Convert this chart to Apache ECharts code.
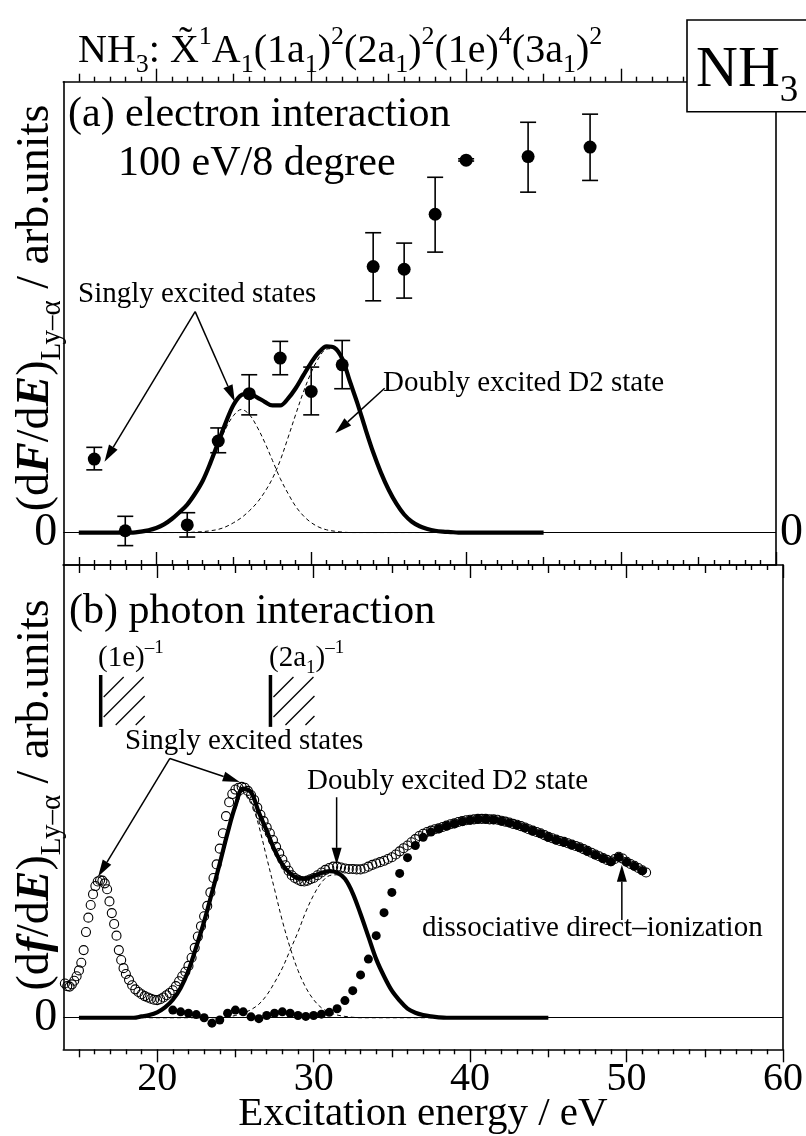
<!DOCTYPE html>
<html><head><meta charset="utf-8">
<script src="https://cdn.jsdelivr.net/npm/echarts@6/dist/echarts.min.js"></script>
<style>html,body{margin:0;padding:0;background:#fff}#c{width:806px;height:1136px}</style>
</head><body><div id="c"></div>
<script>
// ---------------- data ----------------
const X_MIN = 14, X_MAX = 60;
const X_LABELS = [20, 30, 40, 50, 60];
const MAJOR_TICKS = [20, 30, 40, 50, 60];
const MID_TICKS = [15, 25, 35, 45, 55];
const MINOR_TICKS = [16,17,18,19,21,22,23,24,26,27,28,29,31,32,33,34,36,37,38,39,41,42,43,44,46,47,48,49,51,52,53,54,56,57,58,59];
const Y_LABELS = [0];

// (a) electron interaction: points with error bars
const E_ELEC = [16, 18, 22, 24, 26, 28, 30, 32, 34, 36, 38, 40, 44, 48];
const Y_ELEC = [1.63, 0.04, 0.17, 2.03, 3.08, 3.87, 3.13, 3.72, 5.90, 5.84, 7.06, 8.26, 8.34, 8.55];
const ERR_LO = [1.39, -0.29, -0.10, 1.77, 2.61, 3.50, 2.61, 3.19, 5.14, 5.20, 6.22, 8.24, 7.55, 7.81];
const ERR_HI = [1.89, 0.36, 0.44, 2.32, 3.50, 4.24, 3.67, 4.26, 6.65, 6.42, 7.88, 8.29, 9.10, 9.28];

// fit curves (energies shared)
const E_FIT = [15,15.5,16,16.5,17,17.5,18,18.5,19,19.5,20,20.5,21,21.5,22,22.5,23,23.5,24,24.5,25,25.5,26,26.5,27,27.5,28,28.5,29,29.5,30,30.5,31,31.5,32,32.5,33,33.5,34,34.5,35,35.5,36,36.5,37,37.5,38,38.5,39,39.5,40,40.5,41,41.5,42,42.5,43,43.5,44,44.5,45];
const TOP_SUM = [0,0,0,0,0,0,0,0,0.02,0.05,0.1,0.18,0.3,0.45,0.62,0.86,1.15,1.55,2.0,2.45,2.84,3.05,3.08,3.0,2.9,2.82,2.82,2.97,3.2,3.49,3.77,4.0,4.13,4.1,3.86,3.35,2.85,2.3,1.78,1.33,0.95,0.64,0.4,0.24,0.14,0.08,0.04,0.02,0.01,0,0,0,0,0,0,0,0,0,0,0,0];
const TOP_G1 = [0,0,0,0,0,0,0,0,0.02,0.05,0.1,0.18,0.3,0.45,0.62,0.85,1.13,1.5,1.92,2.32,2.6,2.73,2.62,2.35,2.0,1.6,1.2,0.87,0.58,0.37,0.22,0.12,0.06,0.03,0.01,0,0,0,0,0,0,0,0,0,0,0,0,0,0,0,0,0,0,0,0,0,0,0,0,0,0];
const TOP_G2 = [0,0,0,0,0,0,0,0,0,0,0,0,0,0,0,0.01,0.02,0.04,0.07,0.13,0.22,0.33,0.48,0.66,0.9,1.2,1.6,2.1,2.62,3.12,3.55,3.88,4.07,4.08,3.85,3.35,2.85,2.3,1.78,1.33,0.95,0.64,0.4,0.24,0.14,0.08,0.04,0.02,0.01,0,0,0,0,0,0,0,0,0,0,0,0];
const BOT_SUM = [0,0,0,0,0,0,0,0,0.03,0.06,0.12,0.23,0.4,0.66,1.05,1.57,2.13,2.77,3.42,4.1,4.7,5.08,5.0,4.55,4.15,3.72,3.4,3.2,3.09,3.08,3.14,3.21,3.25,3.22,3.08,2.76,2.3,1.8,1.3,0.92,0.6,0.38,0.2,0.11,0.06,0.03,0.01,0,0,0,0,0,0,0,0,0,0,0,0,0,0];
const BOT_G1 = [0,0,0,0,0,0,0,0,0.03,0.06,0.12,0.23,0.4,0.66,1.05,1.57,2.13,2.76,3.4,4.07,4.62,4.97,4.8,4.25,3.55,2.85,2.15,1.55,1.05,0.67,0.4,0.22,0.12,0.06,0.03,0.01,0,0,0,0,0,0,0,0,0,0,0,0,0,0,0,0,0,0,0,0,0,0,0,0,0];
const BOT_G2 = [0,0,0,0,0,0,0,0,0,0,0,0,0,0,0,0,0,0,0,0.02,0.05,0.1,0.18,0.3,0.5,0.78,1.1,1.5,1.9,2.35,2.72,3.0,3.15,3.17,3.06,2.75,2.3,1.8,1.3,0.92,0.6,0.38,0.2,0.11,0.06,0.03,0.01,0,0,0,0,0,0,0,0,0,0,0,0,0,0];

// (b) photon interaction: measured (open circles)
const E_OPEN = [14.1,14.25,14.4,14.55,14.7,14.85,15.0,15.15,15.3,15.45,15.6,15.75,15.9,16.05,16.2,16.35,16.5,16.65,16.8,16.95,17.1,17.25,17.4,17.55,17.7,17.85,18.0,18.2,18.4,18.6,18.8,19.0,19.2,19.4,19.6,19.8,20.0,20.2,20.4,20.6,20.8,21.0,21.2,21.4,21.6,21.8,22.0,22.2,22.4,22.6,22.8,23.0,23.2,23.4,23.6,23.8,24.0,24.2,24.4,24.6,24.8,25.0,25.2,25.4,25.6,25.8,26.0,26.2,26.4,26.6,26.8,27.0,27.2,27.4,27.6,27.8,28.0,28.2,28.4,28.6,28.8,29.0,29.2,29.4,29.6,29.8,30.0,30.25,30.5,30.75,31.0,31.25,31.5,31.75,32.0,32.25,32.5,32.75,33.0,33.25,33.5,33.75,34.0,34.25,34.5,34.75,35.0,35.25,35.5,35.75,36.0,36.25,36.5,36.75,37.0,37.25,37.5,37.75,38.0,38.25,38.5,38.75,39.0,39.25,39.5,39.75,40.0,40.25,40.5,40.75,41.0,41.25,41.5,41.75,42.0,42.25,42.5,42.75,43.0,43.25,43.5,43.75,44.0,44.25,44.5,44.75,45.0,45.25,45.5,45.75,46.0,46.25,46.5,46.75,47.0,47.25,47.5,47.75,48.0,48.25,48.5,48.75,49.0,49.25,49.5,49.75,50.0,50.25,50.5,50.75,51.0,51.25];
const Y_OPEN = [0.76,0.7,0.69,0.74,0.82,0.92,1.05,1.22,1.5,1.9,2.22,2.5,2.74,2.92,3.02,3.05,3.04,2.98,2.85,2.58,2.32,2.08,1.82,1.5,1.28,1.1,0.97,0.84,0.72,0.63,0.57,0.52,0.48,0.45,0.42,0.4,0.39,0.41,0.45,0.5,0.55,0.61,0.7,0.81,0.92,1.02,1.15,1.33,1.55,1.8,2.03,2.25,2.48,2.78,3.1,3.4,3.75,4.09,4.47,4.78,4.96,5.06,5.1,5.12,5.1,5.03,4.94,4.83,4.66,4.5,4.36,4.22,4.09,3.94,3.79,3.65,3.51,3.38,3.26,3.16,3.1,3.06,3.03,3.02,3.04,3.07,3.1,3.16,3.22,3.28,3.32,3.35,3.35,3.33,3.31,3.3,3.3,3.29,3.29,3.31,3.35,3.39,3.42,3.45,3.48,3.52,3.56,3.62,3.69,3.76,3.82,3.89,3.96,4.03,4.08,4.12,4.15,4.18,4.2,4.23,4.26,4.29,4.31,4.34,4.36,4.38,4.39,4.4,4.41,4.41,4.41,4.4,4.4,4.39,4.37,4.35,4.33,4.3,4.28,4.25,4.22,4.18,4.15,4.12,4.09,4.05,4.01,3.98,3.95,3.92,3.9,3.87,3.84,3.81,3.78,3.74,3.7,3.66,3.62,3.58,3.54,3.5,3.47,3.52,3.57,3.53,3.46,3.41,3.37,3.32,3.27,3.22];

// dissociative direct-ionization component (filled circles)
const E_DISS = [21,21.5,22,22.5,23,23.5,24,24.5,25,25.5,26,26.5,27,27.5,28,28.5,29,29.5,30,30.5,31,31.5,32,32.5,33,33.5,34,34.5,35,35.5,36,36.5,37,37.5,38,38.5,39,39.5,40,40.5,41,41.5,42,42.5,43,43.5,44,44.5,45,45.5,46,46.5,47,47.5,48,48.5,49,49.5,50,50.5,51];
const Y_DISS = [0.17,0.13,0.1,0.07,0.0,-0.12,-0.05,0.1,0.17,0.13,0.02,-0.02,0.05,0.1,0.13,0.1,0.05,0.03,0.05,0.08,0.12,0.2,0.38,0.6,0.95,1.3,1.82,2.33,2.78,3.2,3.55,3.82,4.0,4.12,4.19,4.25,4.3,4.35,4.38,4.4,4.4,4.39,4.36,4.32,4.27,4.21,4.14,4.08,4.0,3.94,3.89,3.83,3.77,3.69,3.61,3.53,3.46,3.56,3.45,3.36,3.26];

// ---------------- chart ----------------
const FONT = '"Liberation Serif","Times New Roman",serif';
const BLACK = '#000';
const GRIDS = [
  {left: 63.3, right: 21.7, top: 81.7, height: 483.3},
  {left: 63.3, right: 21.7, top: 565, height: 484.3}
];
const YR = [[-0.72, 10.0], [-0.70, 10.04]];

function xAxes(g, side, inside, withLabels) {
  const base = {gridIndex: g, type: 'value', min: X_MIN, max: X_MAX, position: side,
    splitLine: {show: false}, axisLabel: {show: false}, axisLine: {show: false, onZero: false}};
  const tl = {color: BLACK, width: 1.4};
  return [
    Object.assign({}, base, {
      axisLine: {show: true, onZero: false, lineStyle: {color: BLACK, width: 1.6}},
      axisTick: {show: true, inside: inside, length: 13, customValues: MAJOR_TICKS, lineStyle: tl},
      axisLabel: withLabels ? {show: true, customValues: X_LABELS, fontSize: 40, fontFamily: FONT, color: BLACK, margin: 10} : {show: false}
    }),
    Object.assign({}, base, {axisTick: {show: true, inside: inside, length: 8, customValues: MID_TICKS, lineStyle: tl}}),
    Object.assign({}, base, {axisTick: {show: true, inside: inside, length: 5, customValues: MINOR_TICKS, lineStyle: tl}})
  ];
}
function yAxes(g) {
  const mk = (pos, showLab, margin) => ({
    gridIndex: g, type: 'value', min: YR[g][0], max: YR[g][1], position: pos,
    axisLine: {show: true, onZero: false, lineStyle: {color: BLACK, width: 1.6}},
    axisTick: {show: false}, splitLine: {show: false},
    axisLabel: showLab ? {show: true, customValues: Y_LABELS, fontSize: 46, fontFamily: FONT, color: BLACK, margin: margin} : {show: false}
  });
  return [mk('left', true, 6), mk('right', g === 0, 4)];
}

const xAxis = [].concat(
  xAxes(0, 'bottom', true, false), xAxes(0, 'top', false, false),
  xAxes(1, 'bottom', false, true), xAxes(1, 'top', true, false)
);
const yAxis = [].concat(yAxes(0), yAxes(1));

const pairs = (xs, ys) => xs.map((x, i) => [x, ys[i]]);
const zeroLine = {silent: true, symbol: ['none', 'none'], label: {show: false},
  lineStyle: {color: BLACK, width: 1.2, type: 'solid'}, data: [{yAxis: 0}]};
const dashed = (g, ys, withZero) => ({
  type: 'line', xAxisIndex: g ? 6 : 0, yAxisIndex: g ? 2 : 0, data: pairs(E_FIT, ys),
  smooth: 0.35, showSymbol: false, lineStyle: {color: BLACK, width: 1, type: [4, 3]},
  markLine: withZero ? zeroLine : undefined, z: 2
});
const thick = (g, ys) => ({
  type: 'line', xAxisIndex: g ? 6 : 0, yAxisIndex: g ? 2 : 0, data: pairs(E_FIT, ys),
  smooth: 0.35, showSymbol: false, lineStyle: {color: BLACK, width: 4.2}, z: 4
});

const series = [
  dashed(0, TOP_G1, true), dashed(0, TOP_G2, false), thick(0, TOP_SUM),
  {
    type: 'custom', xAxisIndex: 0, yAxisIndex: 0, z: 5,
    data: E_ELEC.map((e, i) => [e, ERR_LO[i], ERR_HI[i]]),
    encode: {x: 0, y: [1, 2]},
    renderItem: (params, api) => {
      const x = api.value(0);
      const lo = api.coord([x, api.value(1)]);
      const hi = api.coord([x, api.value(2)]);
      const w = 8, st = {stroke: BLACK, lineWidth: 1.6};
      return {type: 'group', children: [
        {type: 'line', shape: {x1: lo[0], y1: lo[1], x2: hi[0], y2: hi[1]}, style: st},
        {type: 'line', shape: {x1: lo[0] - w, y1: lo[1], x2: lo[0] + w, y2: lo[1]}, style: st},
        {type: 'line', shape: {x1: hi[0] - w, y1: hi[1], x2: hi[0] + w, y2: hi[1]}, style: st}
      ]};
    }
  },
  {type: 'scatter', xAxisIndex: 0, yAxisIndex: 0, data: pairs(E_ELEC, Y_ELEC),
    symbol: 'circle', symbolSize: 13, itemStyle: {color: BLACK, opacity: 1}, z: 6},

  {type: 'scatter', xAxisIndex: 6, yAxisIndex: 2, data: pairs(E_OPEN, Y_OPEN),
    symbol: 'circle', symbolSize: 9, itemStyle: {color: 'rgba(0,0,0,0)', borderColor: BLACK, borderWidth: 1.1, opacity: 1}, z: 3},
  dashed(1, BOT_G1, true), dashed(1, BOT_G2, false), thick(1, BOT_SUM),
  {type: 'scatter', xAxisIndex: 6, yAxisIndex: 2, data: pairs(E_DISS, Y_DISS),
    symbol: 'circle', symbolSize: 9, itemStyle: {color: BLACK, opacity: 1}, z: 6}
];

const chart = echarts.init(document.getElementById('c'));
chart.setOption({
  animation: false, backgroundColor: '#fff',
  grid: GRIDS.map(g => Object.assign({containLabel: false}, g)),
  xAxis: xAxis, yAxis: yAxis, series: series
});

// ---------------- annotations ----------------
function rich(fs) {
  const lh = Math.round(fs * 1.35), sfs = Math.round(fs * 0.64);
  return {
    n: {fontSize: fs, fontFamily: FONT, color: BLACK, lineHeight: lh},
    bi: {fontSize: fs, fontFamily: FONT, color: BLACK, lineHeight: lh, fontStyle: 'italic', fontWeight: 'bold'},
    sub: {fontSize: sfs, fontFamily: FONT, color: BLACK, lineHeight: sfs, verticalAlign: 'bottom'},
    sup: {fontSize: sfs, fontFamily: FONT, color: BLACK, lineHeight: sfs, verticalAlign: 'top'}
  };
}
// text placed by its left edge and its baseline
function label(x, baseline, text, fs, opt) {
  opt = opt || {};
  return {type: 'text', z: 60, x: x, y: baseline - 0.3 * fs,
    style: {text: text, rich: rich(fs), font: fs + 'px ' + FONT, fill: BLACK,
      align: opt.align || 'left', verticalAlign: 'middle'}};
}
const P = (g, pt) => chart.convertToPixel({xAxisIndex: g ? 6 : 0, yAxisIndex: g ? 2 : 0}, pt);
function arrow(g, from, to) {
  const p0 = P(g, from), p1 = P(g, to);
  const dx = p1[0] - p0[0], dy = p1[1] - p0[1], L = Math.hypot(dx, dy);
  const ux = dx / L, uy = dy / L, head = 17, hw = 5;
  const bx = p1[0] - ux * head, by = p1[1] - uy * head;
  return [
    {type: 'line', z: 60, shape: {x1: p0[0], y1: p0[1], x2: bx, y2: by}, style: {stroke: BLACK, lineWidth: 1.5}},
    {type: 'polygon', z: 60, shape: {points: [[p1[0], p1[1]], [bx - uy * hw, by + ux * hw], [bx + uy * hw, by - ux * hw]]}, style: {fill: BLACK}}
  ];
}
const ARROWS = [
  [0, [22.51, 4.9], [16.66, 1.57]],
  [0, [22.51, 4.9], [25.07, 2.9]],
  [0, [34.74, 3.2], [31.55, 2.2]],
  [1, [20.81, 5.75], [16.23, 3.13]],
  [1, [20.81, 5.75], [25.28, 5.23]],
  [1, [31.47, 4.89], [31.47, 3.39]],
  [1, [49.7, 2.17], [49.7, 3.39]]
];
const THRESHOLDS = [16.39, 27.24];   // ionization onsets (1e)^-1, (2a1)^-1
const THR_Y = [6.45, 7.6];

const gfx = [];
ARROWS.forEach(a => gfx.push.apply(gfx, arrow(a[0], a[1], a[2])));
THRESHOLDS.forEach(e => {
  const b = P(1, [e, THR_Y[0]]), t = P(1, [e, THR_Y[1]]);
  gfx.push({type: 'line', z: 60, shape: {x1: b[0], y1: b[1], x2: t[0], y2: t[1]}, style: {stroke: BLACK, lineWidth: 3.5}});
  const hatch = [[3, 22, 23, 2], [3, 42, 43, 2], [15, 50, 44, 21], [35, 50, 44, 41]];
  hatch.forEach(h => gfx.push({type: 'line', z: 60,
    shape: {x1: t[0] + h[0], y1: t[1] + h[1], x2: t[0] + h[2], y2: t[1] + h[3]}, style: {stroke: BLACK, lineWidth: 1.3}}));
});

// texts
gfx.push(label(78, 63, '{n|NH}{sub|3}{n|: X\u0303}{sup|1}{n|A}{sub|1}{n|(1a}{sub|1}{n|)}{sup|2}{n|(2a}{sub|1}{n|)}{sup|2}{n|(1e)}{sup|4}{n|(3a}{sub|1}{n|)}{sup|2}', 40));
gfx.push({type: 'rect', z: 55, shape: {x: 687, y: 20, width: 140, height: 91.7}, style: {fill: '#fff', stroke: BLACK, lineWidth: 1.6}});
gfx.push(label(696, 88, '{n|NH}{sub|3}', 58));
gfx.push(label(68, 128, '(a) electron interaction', 42));
gfx.push(label(118, 177, '100 eV/8 degree', 42));
gfx.push(label(78, 303, 'Singly excited states', 29));
gfx.push(label(383, 392, 'Doubly excited D2 state', 29));
gfx.push(label(69, 625, '(b) photon interaction', 42));
gfx.push(label(98, 667, '{n|(1e)}{sup|\u20131}', 29));
gfx.push(label(269, 667, '{n|(2a}{sub|1}{n|)}{sup|\u20131}', 29));
gfx.push(label(125, 750, 'Singly excited states', 29));
gfx.push(label(307, 790, 'Doubly excited D2 state', 29));
gfx.push(label(422, 937, 'dissociative direct\u2013ionization', 29));
gfx.push(label(423, 1127, 'Excitation energy / eV', 41, {align: 'center'}));
// rotated y titles: x is the baseline position
const YT = 46;
gfx.push({type: 'text', z: 60, x: 50 - 0.3 * YT, y: 308, rotation: Math.PI / 2,
  style: {text: '{n|(d}{bi|F}{n|/d}{bi|E}{n|)}{sub|Ly\u2013\u03b1}{n| / arb.units}', rich: rich(YT), align: 'center', verticalAlign: 'middle'}});
gfx.push({type: 'text', z: 60, x: 50 - 0.3 * YT, y: 795, rotation: Math.PI / 2,
  style: {text: '{n|(d}{bi|f}{n|/d}{bi|E}{n|)}{sub|Ly\u2013\u03b1}{n| / arb.units}', rich: rich(YT), align: 'center', verticalAlign: 'middle'}});

chart.setOption({graphic: gfx});
</script>
</body></html>
